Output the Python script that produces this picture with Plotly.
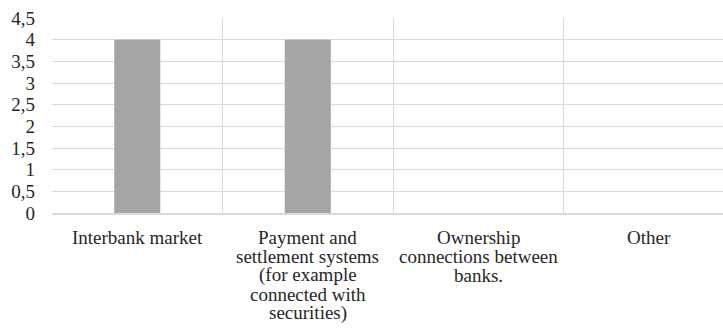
import plotly.graph_objects as go

categories = ["Interbank market",
              "Payment and settlement systems (for example connected with securities)",
              "Ownership connections between banks.",
              "Other"]
label_lines = [["Interbank market"],
               ["Payment and", "settlement systems", "(for example", "connected with", "securities)"],
               ["Ownership", "connections between", "banks."],
               ["Other"]]
values = [4, 4, 0, 0]
y_ticks = [0, 0.5, 1, 1.5, 2, 2.5, 3, 3.5, 4, 4.5]

FONT = "Liberation Serif"
TXT = "#262626"
GRID = "#d9d9d9"

fig = go.Figure(go.Bar(x=categories, y=values, marker=dict(color="#a5a5a5", line=dict(width=0))))

annotations = []
for cat, lines in zip(categories, label_lines):
    for i, ln in enumerate(lines):
        annotations.append(dict(x=cat, xref="x", y=0, yref="paper", text=ln, showarrow=False,
                                xanchor="center", yanchor="middle", yshift=-24 - 19 * i,
                                font=dict(family=FONT, size=19, color=TXT)))

fig.update_layout(
    width=723, height=336,
    margin=dict(l=52, r=0, t=18, b=123),
    paper_bgcolor="white", plot_bgcolor="white",
    font=dict(family=FONT, size=19, color=TXT),
    separators=",.",
    bargap=0.73,
    showlegend=False,
    annotations=annotations,
    xaxis=dict(type="category", range=[-0.5, 3.435], tickson="boundaries",
               showgrid=True, gridcolor=GRID, gridwidth=1,
               showline=True, linecolor=GRID, linewidth=1.5,
               showticklabels=False, ticks="", zeroline=False),
    yaxis=dict(range=[0, 4.5], tickvals=y_ticks, showgrid=True, gridcolor=GRID, gridwidth=1,
               zeroline=False, showline=False, ticks="", ticklabelstandoff=16,
               tickfont=dict(family=FONT, size=19, color=TXT)),
)

fig.write_html("out.html")
